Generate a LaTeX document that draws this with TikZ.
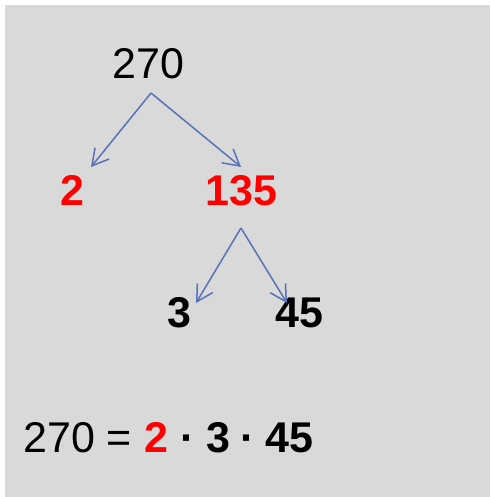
\documentclass[tikz,border=0pt]{standalone}
\usepackage{fontspec}
\setmainfont{Liberation Sans}
\usetikzlibrary{arrows.meta}
\definecolor{bg}{HTML}{D9D9D9}
\definecolor{arrowblue}{RGB}{88,114,184}
\definecolor{numred}{HTML}{FF0000}
\begin{document}
\begin{tikzpicture}[x=1pt,y=-1pt,
  num/.style={inner sep=0pt,anchor=base west,font=\fontsize{43}{50}\selectfont},
  boldnum/.style={num,font=\fontsize{43}{50}\selectfont\bfseries},
  rednum/.style={boldnum,text=numred},
  tree/.style={draw=arrowblue,line width=1.5pt,-{Straight Barb[length=16pt,width=18pt,line width=1.5pt]}}]
\useasboundingbox (0,0) rectangle (490,497);
\fill[bg] (5,5) rectangle (490,497);
\node[num] (n270) at (112,79) {270};
\node[rednum] (n2) at (60,205) {2};
\node[rednum] (n135) at (205,205) {135};
\node[boldnum] (n3) at (167,327) {3};
\node[boldnum] (n45) at (275,327) {45};
\node[num] (eqa) at (23,452) {270 =};
\node[rednum] (eqb) at (144,452) {2};
\node[boldnum] (dot1) at (180.5,452) {·};
\node[boldnum] (eqc) at (206,452) {3};
\node[boldnum] (dot2) at (240,452) {·};
\node[boldnum] (eqd) at (265,452) {45};
\coordinate (a1) at (151,93);
\coordinate (t1) at (91,167);
\coordinate (t2) at (241,167);
\coordinate (a2) at (241,228);
\coordinate (t3) at (196,303);
\coordinate (t4) at (287,303);
\draw[tree] (a1) -- (t1);
\draw[tree] (a1) -- (t2);
\draw[tree] (a2) -- (t3);
\draw[tree] (a2) -- (t4);
\end{tikzpicture}
\end{document}
